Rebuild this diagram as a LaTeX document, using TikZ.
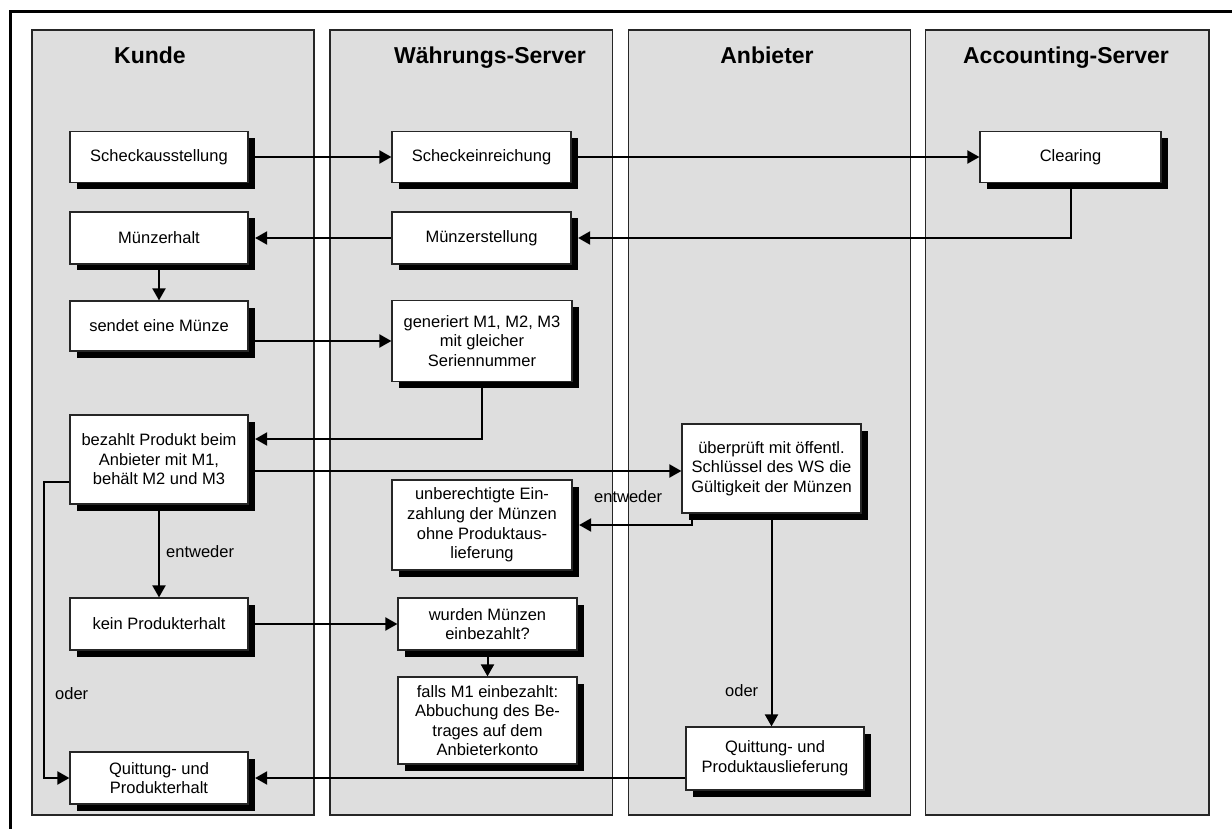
\documentclass[tikz,border=0pt]{standalone}
\usepackage{fontspec}
\setmainfont{Liberation Sans}
\usetikzlibrary{arrows.meta,shadows}
\definecolor{lanegray}{HTML}{DEDEDE}

\begin{document}
\begin{tikzpicture}[x=1pt,y=-1pt,
  lane/.style={fill=lanegray, draw=black!85, line width=1.5pt},
  title/.style={font=\fontsize{23}{27}\selectfont\bfseries, inner sep=0pt, anchor=base},
  stepbox/.style={draw=black!85, fill=white, line width=1.2pt, align=center,
    inner xsep=2pt, inner ysep=1pt,
    font=\fontsize{16.5}{19.6}\selectfont,
    drop shadow={shadow xshift=6.5pt, shadow yshift=-6.5pt, fill=black, opacity=1}},
  conn/.style={draw=black, line width=2pt, -{Triangle[length=12pt,width=13pt]}},
  lbl/.style={font=\fontsize{16.5}{19.6}\selectfont, inner sep=0pt, anchor=base west}
]
\useasboundingbox (0,0) rectangle (1232,829);
\fill[white] (0,0) rectangle (1232,829);

% outer frame (only top and left edge lie inside the page)
\draw[line width=3pt] (1232,11.7) -- (10.5,11.7) -- (10.5,829);

% swim lanes
\draw[lane] (32,30) rectangle (314,815);
\draw[lane] (330,30) rectangle (612.7,815);
\draw[lane] (628.3,30) rectangle (910.7,815);
\draw[lane] (925.7,30) rectangle (1209,815);

\node[title] (tk) at (150,63.3) {Kunde};
\node[title] (tw) at (490,63.3) {Währungs-Server};
\node[title] (ta) at (767,63.3) {Anbieter};
\node[title] (tc) at (1066,63.3) {Accounting-Server};

% Kunde
\node[stepbox, minimum width=178pt, minimum height=51pt] (k1) at (159,157) {Scheckausstellung};
\node[stepbox, minimum width=178pt, minimum height=52pt] (k2) at (159,238) {Münzerhalt};
\node[stepbox, minimum width=178pt, minimum height=50pt] (k3) at (159,326) {sendet eine Münze};
\node[stepbox, minimum width=178pt, minimum height=89pt] (k4) at (159,459.5) {bezahlt Produkt beim\\Anbieter mit M1,\\behält M2 und M3};
\node[stepbox, minimum width=178pt, minimum height=52pt] (k5) at (159,624) {kein Produkterhalt};
\node[stepbox, minimum width=178pt, minimum height=52pt] (k6) at (159,778) {Quittung- und\\Produkterhalt};

% Währungs-Server
\node[stepbox, minimum width=179pt, minimum height=51pt] (w1) at (481.5,157) {Scheckeinreichung};
\node[stepbox, minimum width=179pt, minimum height=52pt] (w2) at (481.5,238) {Münzerstellung};
\node[stepbox, minimum width=180pt, minimum height=81pt] (w3) at (482,341) {generiert M1, M2, M3\\mit gleicher\\Seriennummer};
\node[stepbox, minimum width=180pt, minimum height=90pt] (w4) at (482,525) {unberechtigte Ein-\\zahlung der Münzen\\ohne Produktaus-\\lieferung};
\node[stepbox, minimum width=179pt, minimum height=52pt] (w5) at (487.5,624) {wurden Münzen\\einbezahlt?};
\node[stepbox, minimum width=179pt, minimum height=87pt] (w6) at (487.5,720.5) {falls M1 einbezahlt:\\Abbuchung des Be-\\trages auf dem\\Anbieterkonto};

% Anbieter
\node[stepbox, minimum width=179pt, minimum height=89pt] (a1) at (771.5,468.5) {überprüft mit öffentl.\\Schlüssel des WS die\\Gültigkeit der Münzen};
\node[stepbox, minimum width=178pt, minimum height=63pt] (a2) at (775,758.5) {Quittung- und\\Produktauslieferung};

% Accounting-Server
\node[stepbox, minimum width=181pt, minimum height=51pt] (c1) at (1070.5,157) {Clearing};

% connectors
\draw[conn] (k1) -- (w1);
\draw[conn] (w1) -- (c1);
\draw[conn] (c1.south) |- ([xshift=6.5pt]w2.east);
\draw[conn] (w2.west) -- ([xshift=6.5pt]k2.east);
\draw[conn] (k2) -- (k3);
\draw[conn] (k3.east |- w3.west) -- (w3.west);
\draw[conn] (w3.south) |- ([xshift=6.5pt,yshift=20.5pt]k4.east);
\draw[conn] ([yshift=-11.5pt]k4.east) -- ([yshift=-11.5pt]k4.east -| a1.west);
\draw[conn] (k4) -- (k5);
\draw[conn] ([yshift=-22.5pt]k4.west) -- ++(-25,0) |- (k6.west);
\draw[conn] ([xshift=10.7pt]a1.south west) |- ([xshift=6.5pt]w4.east);
\draw[conn] (a1.south) -- (a1.south |- a2.north);
\draw[conn] (a2.west |- k6.east) -- ([xshift=6.5pt]k6.east);
\draw[conn] (k5) -- (w5);
\draw[conn] (w5) -- (w6);

% branch labels
\node[lbl] (e1) at (166,557) {entweder};
\node[lbl] (o1) at (55,699) {oder};
\node[lbl] (e2) at (594,502.7) {entweder};
\node[lbl] (o2) at (725,696) {oder};
\end{tikzpicture}
\end{document}
